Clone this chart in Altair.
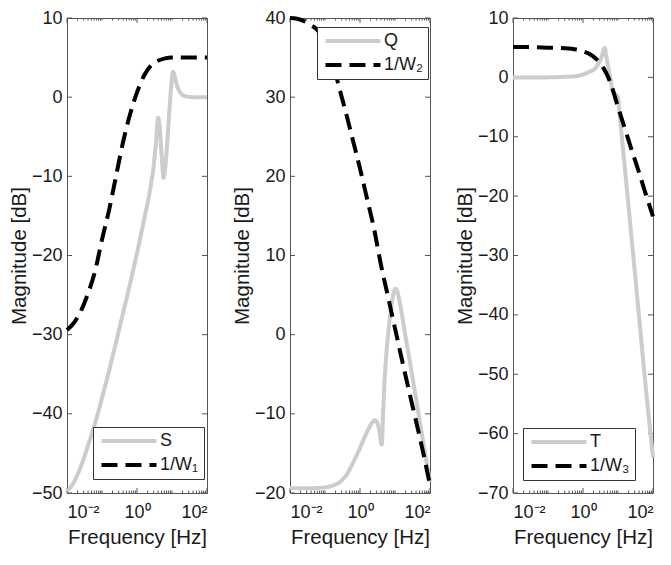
import altair as alt
import pandas as pd

# ---------------- data (log10 of frequency in Hz, magnitude in dB) ----------------
S_LOGF = [-2.0, -1.8, -1.6, -1.4, -1.2, -1.0, -0.8, -0.6, -0.4, -0.2, 0.0, 0.2, 0.4, 0.48, 0.55,
          0.60, 0.64, 0.70, 0.76, 0.80, 0.86, 0.92, 0.98, 1.03, 1.08, 1.15, 1.25, 1.40, 1.6, 2.0]
S_DB = [-49.8, -48.6, -46.6, -44.0, -41.2, -38.0, -34.6, -31.0, -27.3, -23.6, -19.7, -15.5, -11.0, -8.5, -5.3,
        -2.6, -3.4, -7.0, -10.2, -9.2, -6.0, -2.0, 1.5, 3.2, 2.6, 1.4, 0.5, 0.1, 0.0, 0.0]
W1_LOGF = [-2.0, -1.8, -1.6, -1.4, -1.2, -1.0, -0.8, -0.6, -0.4, -0.2, 0.0, 0.2, 0.4, 0.6, 0.8, 1.0, 1.5, 2.0]
W1_DB = [-29.4, -28.5, -27.0, -24.8, -22.0, -18.0, -14.3, -10.0, -5.7, -2.2, 0.6, 2.7, 4.0, 4.6, 4.9, 5.0, 5.0, 5.0]

Q_LOGF = [-2.0, -1.5, -1.0, -0.8, -0.6, -0.4, -0.2, 0.0, 0.2, 0.35, 0.42, 0.50, 0.56, 0.62, 0.66,
          0.70, 0.75, 0.85, 0.94, 1.01, 1.07, 1.13, 1.3, 1.55, 1.78, 2.0]
Q_DB = [-19.4, -19.4, -19.3, -19.1, -18.7, -17.8, -16.2, -14.3, -12.3, -11.1, -10.8, -11.2, -12.3, -13.9, -10.0,
        -6.0, -2.6, 2.0, 4.8, 5.8, 5.4, 4.2, -0.2, -6.7, -12.9, -18.6]
W2_LOGF = [-2.0, -1.8, -1.6, -1.4, -1.2, -1.0, -0.8, -0.6, -0.4, -0.2, 0.0, 0.2, 0.4, 0.6, 0.8,
           1.0, 1.2, 1.4, 1.6, 1.8, 2.0]
W2_DB = [40.0, 39.9, 39.6, 39.1, 38.4, 37.0, 34.7, 31.3, 28.0, 24.5, 21.0, 17.2, 13.4, 8.8, 4.8,
         0.8, -3.2, -7.1, -10.9, -14.8, -19.0]

T_LOGF = [-2.0, -1.0, -0.5, -0.2, 0.0, 0.2, 0.35, 0.45, 0.53, 0.58, 0.62, 0.66, 0.71, 0.76, 0.82,
          0.88, 0.96, 1.0, 1.04, 1.2, 1.4, 1.6, 1.8, 2.0]
T_DB = [0.0, 0.0, 0.1, 0.2, 0.5, 1.0, 1.5, 2.4, 3.4, 4.5, 5.0, 3.8, 2.0, 0.5, -1.5,
        -2.7, -3.0, -3.4, -5.8, -15.5, -27.8, -40.2, -52.6, -64.0]
W3_LOGF = [-2.0, -1.5, -1.0, -0.5, -0.2, 0.0, 0.2, 0.4, 0.55, 0.7, 0.8, 1.0, 1.2, 1.4, 1.6, 1.8, 2.0]
W3_DB = [5.1, 5.1, 5.0, 4.9, 4.7, 4.4, 3.9, 3.0, 1.9, 0.3, -1.2, -5.0, -8.7, -12.4, -16.0, -19.8, -23.4]

X_MAJOR = [0.01, 1, 100]
X_MINOR = [0.02, 0.03, 0.04, 0.05, 0.06, 0.07, 0.08, 0.09, 0.1,
           0.2, 0.3, 0.4, 0.5, 0.6, 0.7, 0.8, 0.9,
           2, 3, 4, 5, 6, 7, 8, 9, 10,
           20, 30, 40, 50, 60, 70, 80, 90]
Y_TICKS_1 = [-50, -40, -30, -20, -10, 0, 10]
Y_TICKS_2 = [-20, -10, 0, 10, 20, 30, 40]
Y_TICKS_3 = [-70, -60, -50, -40, -30, -20, -10, 0, 10]

GRAY = "#cccccc"
BOX = "#555555"
TXT = "#1a1a1a"
FONT = "Liberation Sans"
H = 475
W = 140


def panel(main_name, w_name, main_logf, main_db, w_logf, w_db, ydom, yticks, lx, ly):
    df = pd.DataFrame({
        "f": [10 ** v for v in main_logf] + [10 ** v for v in w_logf],
        "db": list(main_db) + list(w_db),
        "series": [main_name] * len(main_logf) + [w_name] * len(w_logf),
    })
    x = alt.X("f:Q", title="Frequency [Hz]",
              scale=alt.Scale(type="log", domain=[0.01, 100], nice=False),
              axis=alt.Axis(values=X_MAJOR, ticks=False, domain=False, grid=False,
                            labelExpr="datum.value < 0.1 ? '10⁻²' : (datum.value < 10 ? '10⁰' : '10²')"))
    y = alt.Y("db:Q", title="Magnitude [dB]",
              scale=alt.Scale(domain=ydom, nice=False, zero=False),
              axis=alt.Axis(values=yticks, ticks=False, domain=False, grid=False))
    leg = alt.Legend(orient="none", legendX=lx, legendY=ly, title=None)
    color = alt.Color("series:N", scale=alt.Scale(domain=[main_name, w_name], range=[GRAY, "black"]), legend=leg)
    dash = alt.StrokeDash("series:N", scale=alt.Scale(domain=[main_name, w_name], range=[[1, 0], [16, 8]]), legend=leg)

    base = alt.Chart(df).mark_line(strokeWidth=4, interpolate="monotone").encode(x=x, y=y, color=color, strokeDash=dash)
    l_main = base.transform_filter(alt.datum.series == main_name)
    l_w = base.transform_filter(alt.datum.series == w_name)

    xmaj = pd.DataFrame({"f": X_MAJOR})
    xmin = pd.DataFrame({"f": X_MINOR})
    ydf = pd.DataFrame({"db": yticks})
    rule = dict(color=BOX, strokeWidth=1)
    t1 = alt.Chart(xmaj).mark_rule(**rule).encode(x=x, y=alt.value(H), y2=alt.value(H - 5))
    t2 = alt.Chart(xmaj).mark_rule(**rule).encode(x=x, y=alt.value(0), y2=alt.value(5))
    t3 = alt.Chart(xmin).mark_rule(**rule).encode(x=x, y=alt.value(H), y2=alt.value(H - 2.5))
    t4 = alt.Chart(xmin).mark_rule(**rule).encode(x=x, y=alt.value(0), y2=alt.value(2.5))
    t5 = alt.Chart(ydf).mark_rule(**rule).encode(y=y, x=alt.value(0), x2=alt.value(5))
    t6 = alt.Chart(ydf).mark_rule(**rule).encode(y=y, x=alt.value(W), x2=alt.value(W - 5))
    return alt.layer(t1, t2, t3, t4, t5, t6, l_main, l_w).properties(width=W, height=H)


p1 = panel("S", "1/W₁", S_LOGF, S_DB, W1_LOGF, W1_DB, [-50, 10], Y_TICKS_1, 26, H - 66)
p2 = panel("Q", "1/W₂", Q_LOGF, Q_DB, W2_LOGF, W2_DB, [-20, 40], Y_TICKS_2, 27, 9)
p3 = panel("T", "1/W₃", T_LOGF, T_DB, W3_LOGF, W3_DB, [-70, 10], Y_TICKS_3, 10, H - 65)

chart = alt.hconcat(p1, p2, p3, spacing=83).resolve_scale(
    color="independent", strokeDash="independent", x="independent", y="independent"
).resolve_legend(
    color="independent", strokeDash="independent"
).properties(
    bounds="flush",
    padding={"left": 0, "top": 0, "right": 0, "bottom": 0},
).configure_view(
    stroke=BOX, strokeWidth=1
).configure_axis(
    labelFont=FONT, labelFontSize=18, labelColor=TXT, labelPadding=5,
    titleFont=FONT, titleFontSize=20.5, titleColor=TXT, titleFontWeight="normal", titlePadding=2,
).configure_axisX(
    labelPadding=10, titlePadding=6,
).configure_legend(
    labelFont=FONT, labelFontSize=18, labelColor=TXT, labelOffset=44,
    symbolType="M-1,0H9", symbolSize=121, symbolStrokeWidth=4,
    strokeColor="#333333", fillColor="white", padding=5, rowPadding=6,
)

chart.save("out.html", embed_options={"renderer": "svg", "actions": False})
